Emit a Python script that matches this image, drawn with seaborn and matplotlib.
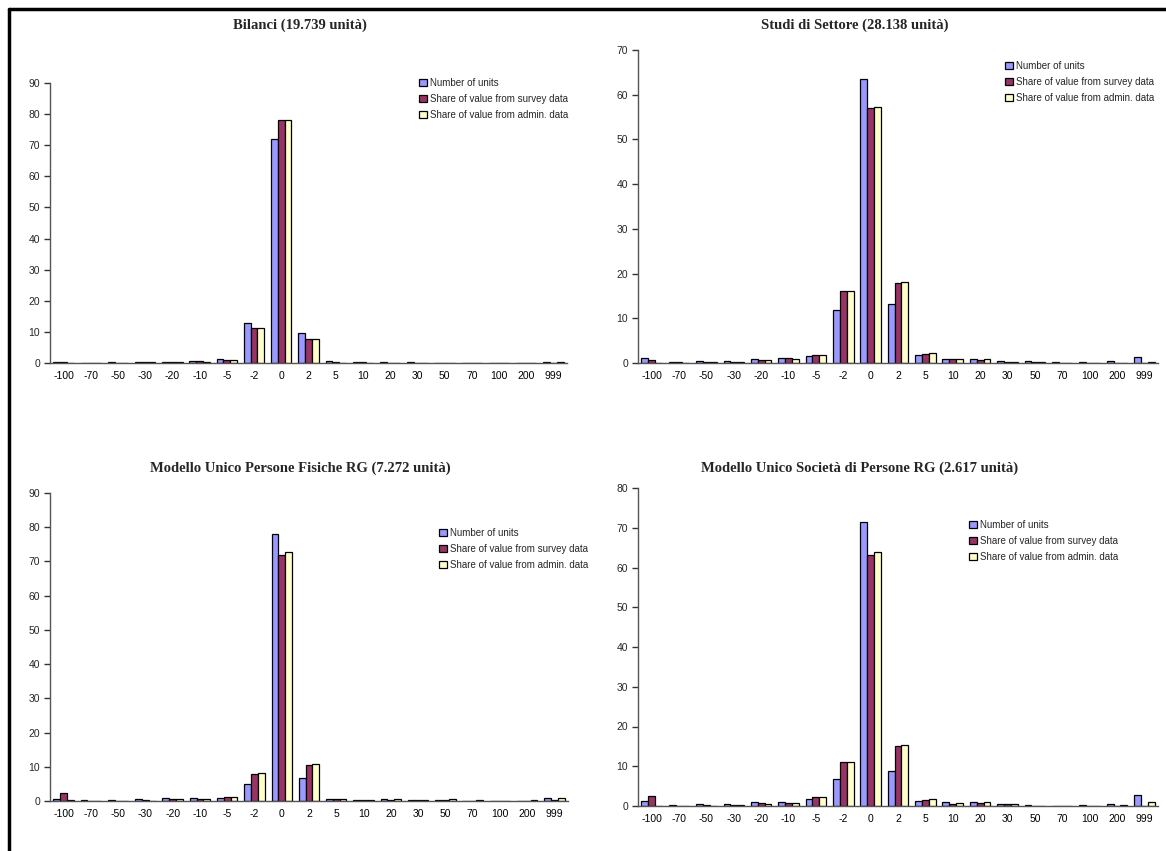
import numpy as np
import pandas as pd
import matplotlib
matplotlib.use("Agg")
import matplotlib.pyplot as plt
from matplotlib.lines import Line2D
import seaborn as sns

# categories (percentage difference classes)
categories = ["-100", "-70", "-50", "-30", "-20", "-10", "-5", "-2", "0", "2",
              "5", "10", "20", "30", "50", "70", "100", "200", "999"]
series = ["Number of units", "Share of value from survey data",
          "Share of value from admin. data"]

# Bilanci
bil_units = [0.2, 0.1, 0.2, 0.2, 0.4, 0.8, 1.4, 12.9, 72.0, 9.6, 0.7, 0.4, 0.4, 0.2, 0.05, 0.05, 0.05, 0.05, 0.4]
bil_survey = [0.2, 0.05, 0.1, 0.2, 0.2, 0.5, 1.1, 11.2, 78.0, 7.8, 0.2, 0.2, 0.1, 0.1, 0.05, 0.05, 0.05, 0.05, 0.1]
bil_admin = [0.1, 0.05, 0.1, 0.2, 0.2, 0.4, 1.1, 11.2, 78.0, 7.8, 0.1, 0.1, 0.1, 0.1, 0.05, 0.05, 0.05, 0.05, 0.3]

# Studi di Settore
sds_units = [1.1, 0.2, 0.4, 0.4, 0.9, 1.1, 1.6, 11.9, 63.5, 13.3, 1.7, 1.0, 0.9, 0.4, 0.4, 0.2, 0.2, 0.4, 1.4]
sds_survey = [0.6, 0.2, 0.2, 0.2, 0.6, 1.1, 1.9, 16.2, 57.1, 18.0, 2.0, 1.0, 0.6, 0.2, 0.2, 0.1, 0.1, 0.1, 0.1]
sds_admin = [0.1, 0.1, 0.2, 0.2, 0.6, 0.8, 1.9, 16.2, 57.3, 18.1, 2.2, 1.0, 0.9, 0.2, 0.2, 0.1, 0.1, 0.1, 0.2]

# Modello Unico Persone Fisiche RG
pf_units = [0.6, 0.3, 0.3, 0.5, 1.0, 1.0, 1.0, 5.0, 78.0, 6.6, 0.6, 0.3, 0.6, 0.3, 0.3, 0.1, 0.1, 0.1, 1.0]
pf_survey = [2.2, 0.1, 0.1, 0.3, 0.7, 0.7, 1.3, 8.0, 72.0, 10.5, 0.6, 0.3, 0.3, 0.2, 0.3, 0.1, 0.1, 0.1, 0.3]
pf_admin = [0.2, 0.05, 0.05, 0.1, 0.7, 0.7, 1.3, 8.2, 72.7, 10.7, 0.6, 0.3, 0.6, 0.2, 0.5, 0.2, 0.1, 0.2, 1.0]

# Modello Unico Societa di Persone RG
sp_units = [1.2, 0.2, 0.6, 0.4, 1.1, 0.9, 1.8, 6.8, 71.5, 8.8, 1.2, 0.9, 0.9, 0.4, 0.2, 0.1, 0.2, 0.4, 2.7]
sp_survey = [2.4, 0.1, 0.3, 0.3, 0.8, 0.8, 2.2, 11.1, 63.2, 15.2, 1.6, 0.6, 0.7, 0.4, 0.1, 0.1, 0.1, 0.1, 0.1]
sp_admin = [0.1, 0.1, 0.1, 0.3, 0.6, 0.8, 2.2, 11.1, 63.8, 15.3, 1.7, 0.8, 0.9, 0.6, 0.1, 0.1, 0.1, 0.2, 1.1]

titles = ["Bilanci (19.739 unità)", "Studi di Settore (28.138 unità)",
          "Modello Unico Persone Fisiche RG (7.272 unità)",
          "Modello Unico Società di Persone RG (2.617 unità)"]
panel_data = [(bil_units, bil_survey, bil_admin), (sds_units, sds_survey, sds_admin),
              (pf_units, pf_survey, pf_admin), (sp_units, sp_survey, sp_admin)]
y_max = [90, 70, 90, 80]

palette = ["#9999FF", "#993366", "#FFFFCC"]

sns.set_theme(style="white")
plt.rcParams["font.family"] = ["Liberation Sans", "DejaVu Sans"]

W, H = 1166, 851
fig = plt.figure(figsize=(W / 100, H / 100), dpi=100)

# plot areas in pixels: left, right, top(ymax), bottom(0)
boxes = [(50, 567, 83, 363), (638, 1158, 50, 363),
         (50, 568, 493, 801), (638, 1158, 488, 806)]
title_pos = [(300, 25), (855, 25), (300, 468), (860, 468)]
legend_pos = [(414, 73), (1000, 56), (434, 523), (964, 515)]

for i in range(4):
    l, r, t, b = boxes[i]
    ax = fig.add_axes([l / W, 1 - b / H, (r - l) / W, (b - t) / H])
    df = pd.DataFrame({
        "cat": categories * 3,
        "val": list(panel_data[i][0]) + list(panel_data[i][1]) + list(panel_data[i][2]),
        "series": [series[0]] * 19 + [series[1]] * 19 + [series[2]] * 19,
    })
    sns.barplot(data=df, x="cat", y="val", hue="series", order=categories,
                hue_order=series, palette=palette, edgecolor="black",
                linewidth=0.9, width=0.75, ax=ax, saturation=1)
    ax.set_xlim(-0.5, 18.5)
    ax.set_ylim(0, y_max[i])
    ax.set_yticks(np.arange(0, y_max[i] + 1, 10))
    ax.set_xlabel("")
    ax.set_ylabel("")
    for s in ["top", "right"]:
        ax.spines[s].set_visible(False)
    for s in ["left", "bottom"]:
        ax.spines[s].set_color("#555555")
        ax.spines[s].set_linewidth(1.0)
    ax.set_xticks(np.arange(-0.5, 19, 1), minor=True)
    ax.tick_params(axis="x", which="major", length=0, labelsize=7.5, pad=6, colors="black")
    ax.tick_params(axis="x", which="minor", length=4, width=1, color="#333333", direction="out")
    ax.tick_params(axis="y", length=4, width=1, color="#333333", direction="out",
                   labelsize=7.5, pad=3, left=True)
    sns.move_legend(ax, "upper left", bbox_to_anchor=(legend_pos[i][0] / W, 1 - legend_pos[i][1] / H),
                    bbox_transform=fig.transFigure, frameon=False, title=None,
                    fontsize=7, handlelength=0.85, handleheight=0.85,
                    handletextpad=0.3, labelspacing=0.62, borderpad=0)
    fig.text(title_pos[i][0] / W, 1 - title_pos[i][1] / H, titles[i],
             ha="center", va="center", fontsize=10.5, fontweight="bold",
             family=["Liberation Serif", "DejaVu Serif"])

# outer frame (left and top edge)
fig.add_artist(Line2D([9 / W, 9 / W], [0, 1 - 9 / H], color="black", lw=2.5))
fig.add_artist(Line2D([9 / W, 1], [1 - 9 / H, 1 - 9 / H], color="black", lw=2.5))

fig.savefig("out.png", dpi=100)
